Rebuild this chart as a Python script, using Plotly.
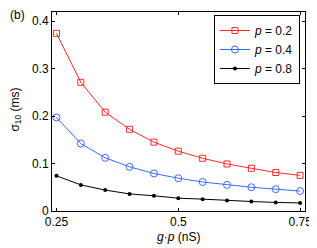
import plotly.graph_objects as go

g_p = [0.25, 0.30, 0.35, 0.40, 0.45, 0.50, 0.55, 0.60, 0.65, 0.70, 0.75]
sigma_p02 = [0.374, 0.271, 0.208, 0.172, 0.145, 0.126, 0.111, 0.099, 0.090, 0.081, 0.075]
sigma_p04 = [0.197, 0.142, 0.112, 0.093, 0.079, 0.069, 0.061, 0.055, 0.050, 0.046, 0.042]
sigma_p08 = [0.074, 0.055, 0.044, 0.036, 0.032, 0.027, 0.025, 0.022, 0.020, 0.018, 0.017]
series_names = ["<i>p</i> = 0.2", "<i>p</i> = 0.4", "<i>p</i> = 0.8"]
x_ticks = [0.25, 0.5, 0.75]
x_tick_labels = ["0.25", "0.5", "0.75"]
y_ticks = [0, 0.1, 0.2, 0.3, 0.4]
y_tick_labels = ["0", "0.1", "0.2", "0.3", "0.4"]

FONT = "Liberation Sans, Arial, sans-serif"
FS = 12

fig = go.Figure()
fig.add_trace(go.Scatter(x=g_p, y=sigma_p02, mode="lines+markers", name=series_names[0],
                         line=dict(color="#ff2a2a", width=1),
                         marker=dict(symbol="square-open", size=6, color="#ff2a2a", line=dict(width=1))))
fig.add_trace(go.Scatter(x=g_p, y=sigma_p04, mode="lines+markers", name=series_names[1],
                         line=dict(color="#3a6bff", width=1),
                         marker=dict(symbol="circle-open", size=7, color="#3a6bff", line=dict(width=1))))
fig.add_trace(go.Scatter(x=g_p, y=sigma_p08, mode="lines+markers", name=series_names[2],
                         line=dict(color="black", width=1),
                         marker=dict(symbol="circle", size=4, color="black")))

axis_common = dict(showline=True, linecolor="black", linewidth=1, mirror="ticks",
                   ticks="inside", ticklen=3, tickcolor="black", showgrid=False,
                   zeroline=False, tickfont=dict(family=FONT, size=FS, color="black"))

# page body has an 8px default margin, so the figure is sized/offset to compensate
fig.update_layout(
    width=309, height=240,
    margin=dict(l=44, r=12, t=4, b=37),
    paper_bgcolor="white", plot_bgcolor="white",
    font=dict(family=FONT, size=FS, color="black"),
    xaxis=dict(range=[0.2408, 0.760], tickvals=x_ticks, ticktext=x_tick_labels, **axis_common),
    yaxis=dict(range=[0, 0.419], tickvals=y_ticks, ticktext=y_tick_labels, **axis_common),
    legend=dict(x=0.98, y=0.985, xanchor="right", yanchor="top",
                bordercolor="black", borderwidth=1, bgcolor="white",
                font=dict(family=FONT, size=FS), tracegroupgap=0, itemwidth=30),
    showlegend=True,
    annotations=[
        dict(text="(b)", x=-0.174, y=0.985, xref="paper", yref="paper", showarrow=False,
             xanchor="left", yanchor="middle", font=dict(family=FONT, size=FS)),
        dict(text="σ<sub>10</sub> (ms)", x=-0.146, y=0.51, xref="paper", yref="paper",
             showarrow=False, textangle=-90, xanchor="center", yanchor="middle",
             font=dict(family=FONT, size=FS)),
        dict(text="<i>g</i>·<i>p</i> (nS)", x=0.5, y=-0.13, xref="paper", yref="paper",
             showarrow=False, xanchor="center", yanchor="middle",
             font=dict(family=FONT, size=FS)),
    ],
)

fig.write_html("out.html")
